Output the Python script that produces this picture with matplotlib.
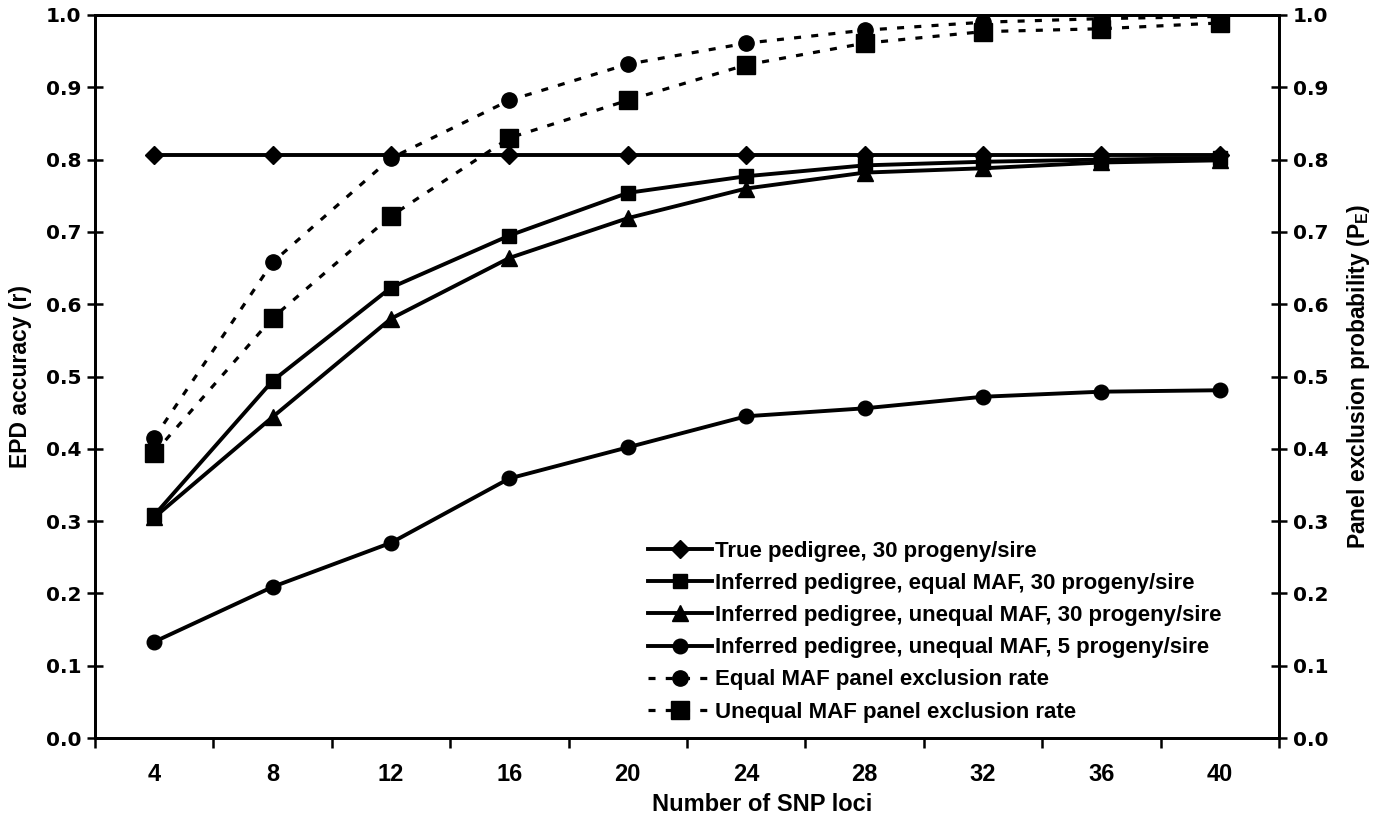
import numpy as np
import matplotlib
matplotlib.use('Agg')
import matplotlib.pyplot as plt
from matplotlib.ticker import FixedLocator, NullFormatter

# Datos
snp_loci = [4, 8, 12, 16, 20, 24, 28, 32, 36, 40]

true_ped_30 = [0.806, 0.806, 0.806, 0.806, 0.806, 0.806, 0.806, 0.806, 0.806, 0.806]
inf_equal_30 = [0.308, 0.494, 0.623, 0.695, 0.754, 0.777, 0.792, 0.797, 0.800, 0.802]
inf_unequal_30 = [0.305, 0.444, 0.580, 0.664, 0.719, 0.760, 0.782, 0.788, 0.796, 0.799]
inf_unequal_5 = [0.133, 0.209, 0.270, 0.359, 0.402, 0.445, 0.456, 0.472, 0.479, 0.481]

excl_equal = [0.415, 0.658, 0.802, 0.882, 0.932, 0.961, 0.979, 0.990, 0.995, 0.998]
excl_unequal = [0.394, 0.581, 0.722, 0.830, 0.882, 0.931, 0.961, 0.977, 0.981, 0.989]

etiquetas = [
    'True pedigree, 30 progeny/sire',
    'Inferred pedigree, equal MAF, 30 progeny/sire',
    'Inferred pedigree, unequal MAF, 30 progeny/sire',
    'Inferred pedigree, unequal MAF, 5 progeny/sire',
    'Equal MAF panel exclusion rate',
    'Unequal MAF panel exclusion rate',
]

FUENTE_NARROW = ['Liberation Sans Narrow', 'Liberation Sans', 'DejaVu Sans']


def graficar(ruta_grafico):
    fig = plt.figure(figsize=(13.85, 8.18), dpi=100)
    ax = fig.add_axes([95 / 1385, 1 - 738 / 818, (1279 - 95) / 1385, (738 - 15) / 818])
    ax2 = ax.twinx()

    lw = 2.8
    ax.plot(snp_loci, true_ped_30, color='black', lw=lw, marker='D', ms=9, label=etiquetas[0])
    ax.plot(snp_loci, inf_equal_30, color='black', lw=lw, marker='s', ms=10.5, label=etiquetas[1])
    ax.plot(snp_loci, inf_unequal_30, color='black', lw=lw, marker='^', ms=11, label=etiquetas[2])
    ax.plot(snp_loci, inf_unequal_5, color='black', lw=lw, marker='o', ms=10.5, label=etiquetas[3])

    # tasas de exclusion en el eje derecho
    ax2.plot(snp_loci, excl_equal, color='black', lw=2.3, ls=(0, (2.2, 3.2)), marker='o', ms=11,
             label=etiquetas[4])
    ax2.plot(snp_loci, excl_unequal, color='black', lw=2.3, ls=(0, (2.2, 3.2)), marker='s', ms=13.5,
             label=etiquetas[5])

    for a in (ax, ax2):
        a.set_xlim(2, 42)
        a.set_ylim(0, 1.0)
        a.set_yticks(np.arange(0, 1.01, 0.1))
        a.set_yticklabels([f'{v:.1f}' for v in np.arange(0, 1.01, 0.1)],
                          fontfamily='DejaVu Sans', fontweight='bold', fontsize=14.5)
        a.tick_params(axis='y', direction='inout', length=12, width=1.8, pad=4)
        for s in a.spines.values():
            s.set_linewidth(2)

    ax.set_xticks(snp_loci)
    ax.set_xticklabels([str(v) for v in snp_loci], fontfamily=FUENTE_NARROW,
                       fontweight='bold', fontsize=17)
    ax.tick_params(axis='x', which='major', length=0, pad=18)
    ax.xaxis.set_minor_locator(FixedLocator(np.arange(2, 43, 4)))
    ax.xaxis.set_minor_formatter(NullFormatter())
    ax.tick_params(axis='x', which='minor', direction='out', length=7, width=1.8)

    ax.set_xlabel('Number of SNP loci', fontfamily=FUENTE_NARROW, fontweight='bold', fontsize=17)
    ax.xaxis.set_label_coords((762 - 95) / 1184, -0.076)
    ax.set_ylabel('EPD accuracy (r)', fontfamily=FUENTE_NARROW, fontweight='bold',
                  fontsize=16.5, labelpad=10)
    ax2.set_ylabel('Panel exclusion probability (P$_\\mathregular{E}$)', fontfamily=FUENTE_NARROW,
                   fontweight='bold', fontsize=16.5, labelpad=12)

    h1, l1 = ax.get_legend_handles_labels()
    h2, l2 = ax2.get_legend_handles_labels()
    ax2.legend(h1 + h2, l1 + l2, loc='upper left', bbox_to_anchor=(648 / 1385, 1 - 541 / 818),
               bbox_transform=fig.transFigure, frameon=False, borderpad=0, borderaxespad=0,
               handlelength=2.9, handletextpad=0.12, labelspacing=0.5,
               prop={'family': FUENTE_NARROW, 'weight': 'bold', 'size': 16})

    plt.savefig(ruta_grafico, dpi=100)


if __name__ == "__main__":
    graficar('out.png')
